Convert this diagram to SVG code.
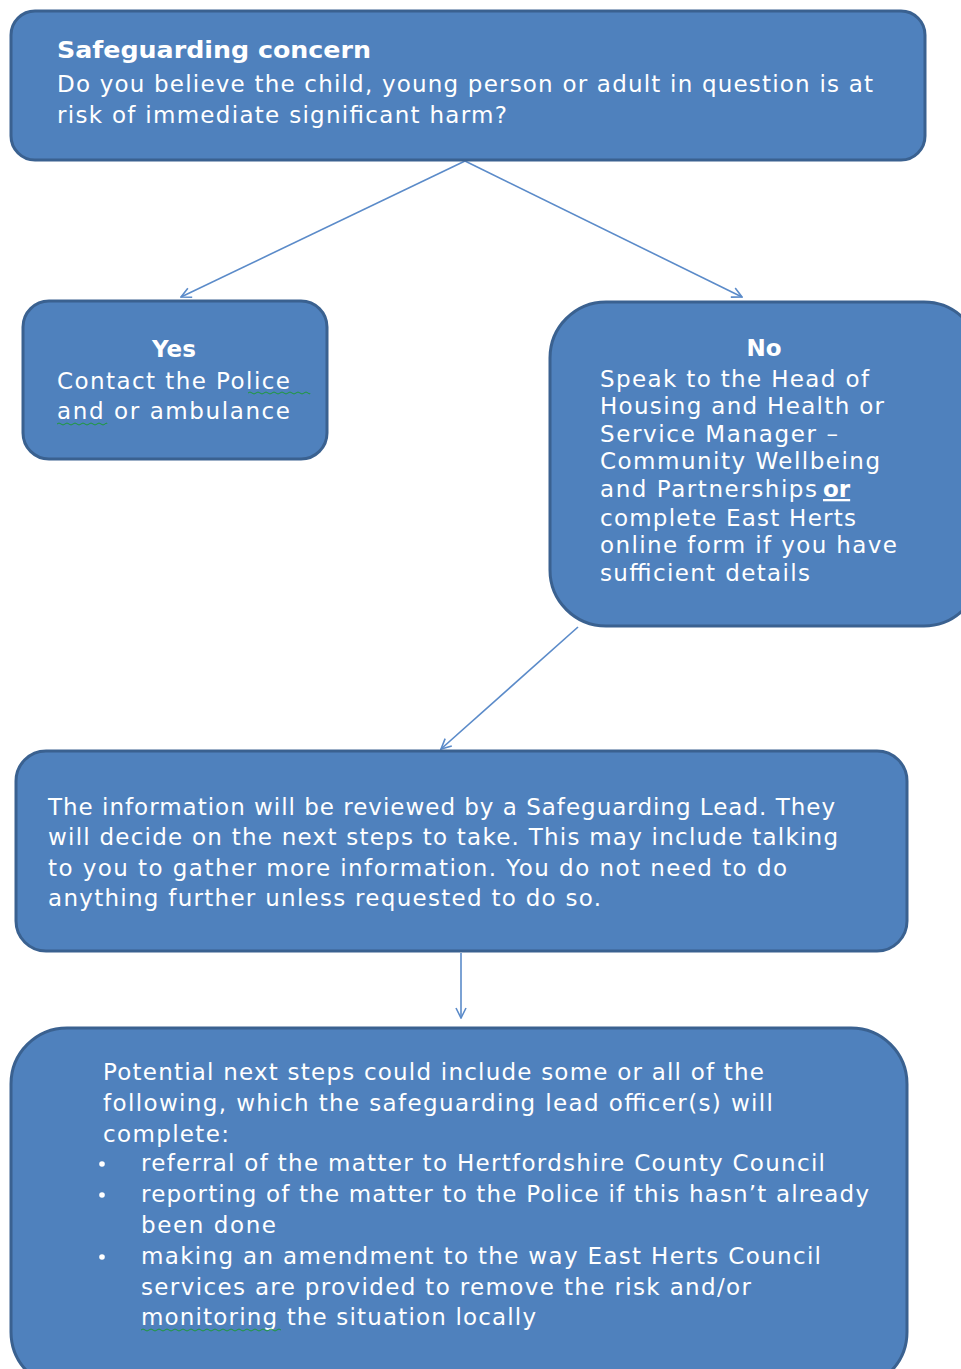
<svg xmlns="http://www.w3.org/2000/svg" width="961" height="1369" viewBox="0 0 961 1369">
<style>
.box{fill:#4F81BD;stroke:#3A6190;stroke-width:3}
.t{font-family:"DejaVu Sans","Verdana",sans-serif;font-size:23px;fill:#FFFFFF}
.b{font-weight:bold}
.c{fill:none;stroke:#5B8BC9;stroke-width:1.6}
.sq{fill:none;stroke:#1E9A3A;stroke-width:1}
</style>
<defs>
<marker id="ah" viewBox="0 0 12 12" refX="11" refY="6" markerWidth="12" markerHeight="12" markerUnits="userSpaceOnUse" orient="auto">
<path d="M1,1 L11,6 L1,11" fill="none" stroke="#5B8BC9" stroke-width="1.6"/>
</marker>
</defs>
<rect width="961" height="1369" fill="#FFFFFF"/>
<g id="connectors">
<line class="c" x1="465" y1="161" x2="181" y2="297" marker-end="url(#ah)"/>
<line class="c" x1="465" y1="161" x2="742" y2="297" marker-end="url(#ah)"/>
<line class="c" x1="578" y1="627" x2="441" y2="749" marker-end="url(#ah)"/>
<line class="c" x1="461" y1="953" x2="461" y2="1018" marker-end="url(#ah)"/>
</g>
<g id="node-concern">
<rect class="box" x="11" y="11" width="914" height="149" rx="24"/>
<text class="t b" x="57" y="58" textLength="314" lengthAdjust="spacingAndGlyphs">Safeguarding concern</text>
<text class="t" x="57" y="92" textLength="816">Do you believe the child, young person or adult in question is at</text>
<text class="t" x="57" y="123" textLength="450">risk of immediate significant harm?</text>
</g>
<g id="node-yes">
<rect class="box" x="23" y="301" width="304" height="158" rx="26"/>
<text class="t b" x="174" y="357" text-anchor="middle">Yes</text>
<text class="t" x="57" y="389" textLength="233">Contact the Police</text>
<text class="t" x="57" y="419" textLength="233">and or ambulance</text>
<path class="sq" d="M248,393 q2,-2 4,0 t4,0 t4,0 t4,0 t4,0 t4,0 t4,0 t4,0 t4,0 t4,0 t4,0 t4,0 t4,0 t4,0 t4,0 t2,0"/>
<path class="sq" d="M57,424 q2,-2 4,0 t4,0 t4,0 t4,0 t4,0 t4,0 t4,0 t4,0 t4,0 t4,0 t4,0 t4,0 t2,0"/>
</g>
<g id="node-no">
<rect class="box" x="550" y="302" width="430" height="324" rx="56"/>
<text class="t b" x="764" y="356" text-anchor="middle">No</text>
<text class="t" x="600" y="387" textLength="269">Speak to the Head of</text>
<text class="t" x="600" y="414" textLength="284">Housing and Health or</text>
<text class="t" x="600" y="442" textLength="238">Service Manager –</text>
<text class="t" x="600" y="469" textLength="280">Community Wellbeing</text>
<text class="t" x="600" y="497" textLength="217">and Partnerships</text>
<text class="t b" x="823" y="497" text-decoration="underline">or</text>
<text class="t" x="600" y="526" textLength="256">complete East Herts</text>
<text class="t" x="600" y="553" textLength="297">online form if you have</text>
<text class="t" x="600" y="581" textLength="210">sufficient details</text>
</g>
<g id="node-review">
<rect class="box" x="16" y="751" width="891" height="200" rx="30"/>
<text class="t" x="48" y="815" textLength="787">The information will be reviewed by a Safeguarding Lead.  They</text>
<text class="t" x="48" y="845" textLength="790">will decide on the next steps to take. This may include talking</text>
<text class="t" x="48" y="876" textLength="739">to you to gather more information. You do not need to do</text>
<text class="t" x="48" y="906" textLength="553">anything further unless requested to do so.</text>
</g>
<g id="node-nextsteps">
<rect class="box" x="11" y="1028" width="896" height="360" rx="56"/>
<text class="t" x="103" y="1080" textLength="661">Potential next steps could include some or all  of the</text>
<text class="t" x="103" y="1111" textLength="670">following, which the safeguarding lead officer(s) will</text>
<text class="t" x="103" y="1142" textLength="126">complete:</text>
<circle cx="102" cy="1164" r="2.8" fill="#FFFFFF"/>
<text class="t" x="141" y="1171" textLength="684">referral of the matter to Hertfordshire County Council</text>
<circle cx="102" cy="1195" r="2.8" fill="#FFFFFF"/>
<text class="t" x="141" y="1202" textLength="728">reporting of the matter to the Police if this hasn’t already</text>
<text class="t" x="141" y="1233" textLength="135">been done</text>
<circle cx="102" cy="1257" r="2.8" fill="#FFFFFF"/>
<text class="t" x="141" y="1264" textLength="680">making an amendment to the way East Herts Council</text>
<text class="t" x="141" y="1295" textLength="610">services are provided to remove the risk and/or</text>
<text class="t" x="141" y="1325" textLength="395">monitoring the situation locally</text>
<path class="sq" d="M141,1330 q2,-2 4,0 t4,0 t4,0 t4,0 t4,0 t4,0 t4,0 t4,0 t4,0 t4,0 t4,0 t4,0 t4,0 t4,0 t4,0 t4,0 t4,0 t4,0 t4,0 t4,0 t4,0 t4,0 t4,0 t4,0 t4,0 t4,0 t4,0 t4,0 t4,0 t4,0 t4,0 t4,0 t4,0 t4,0 t4,0"/>
</g>
</svg>
